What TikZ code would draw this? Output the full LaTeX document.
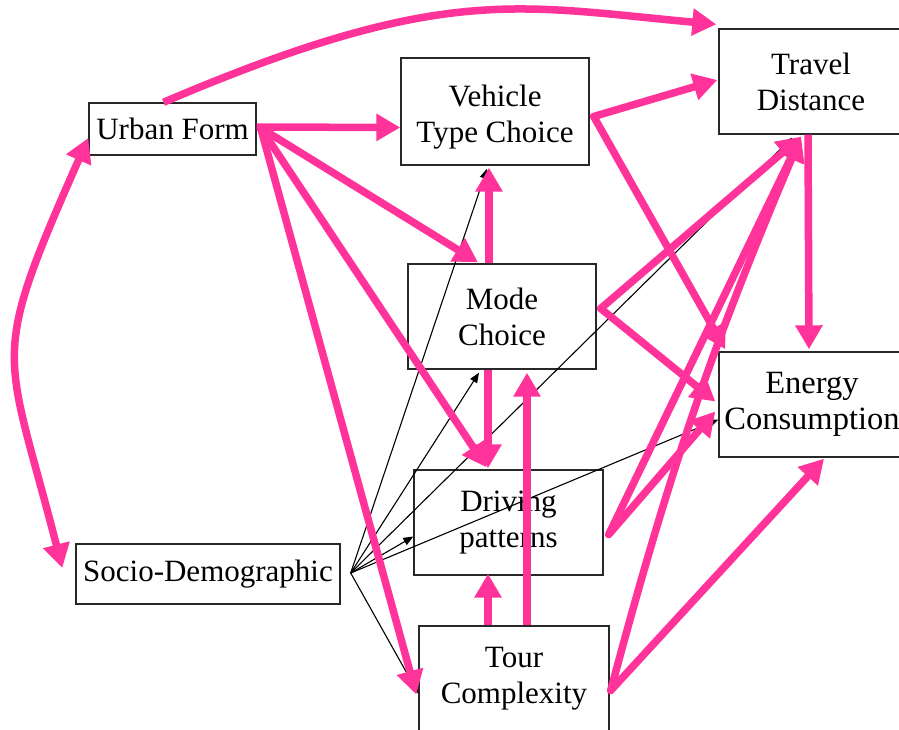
\documentclass[tikz,border=0pt]{standalone}
\usepackage{fontspec}
\setmainfont{Liberation Serif}
\usetikzlibrary{arrows.meta}
\definecolor{pk}{RGB}{255,51,153}
\definecolor{bd}{RGB}{40,40,40}
\begin{document}
\begin{tikzpicture}[x=1pt,y=-1pt,
  box/.style={draw=bd,line width=1.4pt,fill=white,inner sep=0pt,align=center,
    font=\fontsize{31}{36}\selectfont},
  pa/.style={draw=pk,line width=7.5pt,-{Triangle[length=24pt,width=26pt]}},
  pv/.style={pa,line cap=round},
  ba/.style={draw=black,line width=1.1pt,-{Triangle[length=10pt,width=8pt]}}]
\useasboundingbox (0,0) rectangle (899,730);
\clip (0,0) rectangle (899,730);
\fill[white] (0,0) rectangle (899,730);
% nodes
\node[box,minimum width=167pt,minimum height=52pt] (UF) at (172.5,129) {Urban Form};
\node[box,minimum width=188pt,minimum height=107pt] (VT) at (495,111.5) {\rule{0pt}{0pt}\\[-4pt]Vehicle\\Type Choice};
\node[box,minimum width=184pt,minimum height=105pt] (TD) at (811,81.5) {Travel\\Distance};
\node[box,minimum width=188pt,minimum height=105pt] (MC) at (502,316.5) {Mode\\Choice};
\node[box,minimum width=186pt,minimum height=105pt,font=\fontsize{32.5}{36}\selectfont] (EC) at (812,404.5) {Energy\\Consumption};
\node[box,minimum width=189pt,minimum height=105pt] (DP) at (508.5,522.5) {Driving\\patterns};
\node[box,minimum width=264pt,minimum height=60pt] (SD) at (208,574) {Socio-Demographic};
\node[box,minimum width=190pt,minimum height=105pt] (TC) at (514,678.5) {Tour\\Complexity};
% black connectors from Socio-Demographic
\draw[ba] ([shift={(10,-1)}]SD.east) -- ([shift={(-8,3)}]VT.south);
\draw[ba] ([shift={(10,-1)}]SD.east) -- ([shift={(-23,3)}]MC.south);
\draw[ba] ([shift={(10,-1)}]SD.east) -- ([shift={(-19,3)}]TD.south);
\draw[ba] ([shift={(10,-1)}]SD.east) -- ([shift={(0,14)}]DP.west);
\draw[ba] ([shift={(10,-1)}]SD.east) -- ([shift={(0,15)}]EC.west);
\draw[ba] ([shift={(10,-1)}]SD.east) -- ([shift={(0,15)}]TC.west);
% pink connectors
\draw[pa] ([shift={(-9,0)}]UF.north) .. controls (443,-17) and (517,6) .. ([shift={(-2,-4)}]TD.north west);
\draw[pa] ([shift={(0,-2)}]UF.east) -- ([shift={(0,16)}]VT.west);
\draw[pa] ([shift={(4,-1)}]UF.east) -- ([shift={(-24,-1)}]MC.north);
\draw[pa] ([shift={(4,-1)}]UF.east) -- ([shift={(-22,-2)}]DP.north);
\draw[pa] ([shift={(4,-1)}]UF.east) -- ([shift={(-2,16)}]TC.west);
\draw[pa,{Triangle[length=24pt,width=26pt]}-{Triangle[length=24pt,width=26pt]}]
  ([shift={(0,9)}]UF.west) .. controls (-12,365) and (5,345) .. ([shift={(-13,-6)}]SD.west);
\draw[pv] ([shift={(4,5)}]VT.east) -- ([shift={(-1,-1.5)}]TD.west);
\draw[pv] ([shift={(4,5)}]VT.east) -- ([shift={(7,-2)}]EC.north west);
\draw[pa] ([shift={(-13,0)}]MC.north) -- ([shift={(-6,2)}]VT.south);
\draw[pa] ([shift={(-14,0)}]MC.south) -- ([shift={(-20.5,-1)}]DP.north);
\draw[pv] ([shift={(4,-8)}]MC.east) -- ([shift={(-10,2)}]TD.south);
\draw[pv] ([shift={(4,-8)}]MC.east) -- ([shift={(-3,-3)}]EC.west);
\draw[pv] ([shift={(5,12)}]DP.east) -- ([shift={(-10,2)}]TD.south);
\draw[pv] ([shift={(5,12)}]DP.east) -- ([shift={(-3,7)}]EC.west);
\draw[pv] ([shift={(1,12)}]TC.east) to[bend left=4] ([shift={(-10,2)}]TD.south);
\draw[pv] ([shift={(1,12)}]TC.east) -- ([shift={(12,1)}]EC.south);
\draw[pa] ([shift={(-3,0)}]TD.south) -- ([shift={(-3,-2)}]EC.north);
\draw[pa] ([shift={(-26,0)}]TC.north) -- ([shift={(-20.5,-2)}]DP.south);
\draw[pa] ([shift={(13,0)}]TC.north) -- ([shift={(25,3)}]MC.south);
\end{tikzpicture}
\end{document}
